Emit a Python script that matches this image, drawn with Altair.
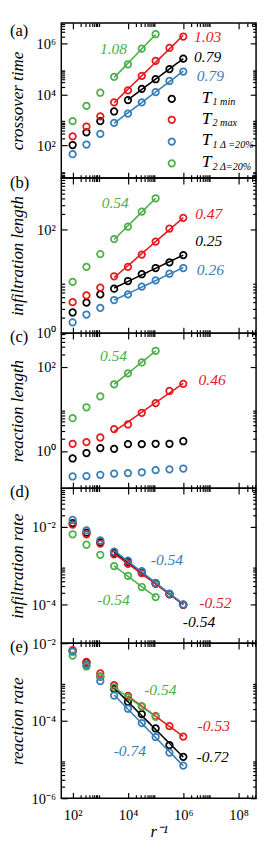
import altair as alt
import pandas as pd

# ---------------- data ----------------
r_inv = [1e2, 3.16e2, 1e3, 3.16e3, 1e4, 3.16e4, 1e5, 3.16e5, 1e6]
series = ["T1 min", "T2 max", "T1 D20", "T2 D20"]
colors = ["#000000", "#e41a1c", "#377eb8", "#4daf4a"]
draw_order = ["T1 min", "T2 max", "T2 D20", "T1 D20"]

# (a) crossover time
a_t1min = [105, 331, 912, 2190, 6170, 17000, 40700, 102000, 263000]
a_t2max = [229, 562, 1410, 5010, 14800, 55000, 214000, 692000, 1.95e6]
a_t1d = [45.7, 110, 288, 776, 1820, 5010, 12600, 34700, 81300]
a_t2d = [912, 3630, 12000, 50100, 158000, 646000, 2.4e6]
a_fit_from = [1e4, 3.16e3, 3.16e3, 3.16e3]
a_exp = ["0.79", "1.03", "0.79", "1.08"]
a_exp_x = [7.6e6, 7.6e6, 9.5e6, 3.0e3]
a_exp_y = [2.95e5, 1.78e6, 5.5e4, 6.46e5]

# (b) infiltration length
b_t1min = [2.51, 3.89, 5.62, 7.24, 10.2, 13.8, 18.2, 23.4, 32.4]
b_t2max = [3.98, 5.37, 7.59, 12.6, 19.1, 33.1, 58.9, 105, 170]
b_t1d = [1.62, 2.29, 3.09, 4.37, 5.62, 7.94, 10.5, 14.1, 18.2]
b_t2d = [9.8, 19.1, 33.9, 66.1, 115, 224, 407]
b_fit_from = [3.16e3, 3.16e3, 3.16e3, 3.16e3]
b_exp = ["0.25", "0.47", "0.26", "0.54"]
b_exp_x = [8.3e6, 8.3e6, 9.5e6, 3.47e3]
b_exp_y = [58.9, 204, 16.6, 324]

# (c) reaction length
c_t1min = [0.66, 0.89, 1.17, 1.12, 1.45, 1.45, 1.48, 1.48, 1.70]
c_t2max = [1.48, 1.62, 2.09, 3.31, 4.27, 8.13, 13.8, 26.9, 39.8]
c_t1d = [0.245, 0.251, 0.269, 0.288, 0.295, 0.309, 0.347, 0.363, 0.380]
c_t2d = [6.03, 11.0, 20.0, 38.9, 70.8, 129, 245]
c_fit_from = [None, 3.16e3, None, 3.16e3]
c_exp = [None, "0.46", None, "0.54"]
c_exp_x = [None, 1.1e7, None, 3.0e3]
c_exp_y = [None, 49, None, 186]

# (d) infiltration rate
d_t1min = [1.26e-2, 7.08e-3, 3.98e-3, 2.14e-3, 1.26e-3, 6.61e-4, 3.47e-4, 1.82e-4, 9.77e-5]
d_t2max = [1.15e-2, 6.46e-3, 3.72e-3, 1.95e-3, 1.12e-3, 6.46e-4, 3.47e-4, 1.86e-4, 9.77e-5]
d_t1d = [1.51e-2, 8.13e-3, 4.47e-3, 2.29e-3, 1.35e-3, 7.24e-4, 3.63e-4, 1.91e-4, 1.0e-4]
d_t2d = [6.46e-3, 3.47e-3, 1.91e-3, 9.77e-4, 5.50e-4, 2.82e-4, 1.55e-4]
d_fit_from = [3.16e3, 3.16e3, 3.16e3, 3.16e3]
d_exp = ["-0.54", "-0.52", "-0.54", "-0.54"]
d_exp_x = [3.7e6, 1.45e7, 2.57e5, 3.0e3]
d_exp_y = [3.55e-5, 1.1e-4, 1.35e-3, 1.29e-4]

# (e) reaction rate
e_t1min = [6.31e-3, 3.16e-3, 1.38e-3, 6.61e-4, 3.09e-4, 1.48e-4, 6.31e-5, 2.34e-5, 1.17e-5]
e_t2max = [6.61e-3, 3.31e-3, 1.66e-3, 8.32e-4, 4.37e-4, 2.34e-4, 1.32e-4, 7.24e-5, 3.89e-5]
e_t1d = [6.03e-3, 2.75e-3, 1.05e-3, 4.47e-4, 2.04e-4, 8.71e-5, 3.80e-5, 1.51e-5, 6.92e-6]
e_t2d = [4.79e-3, 2.51e-3, 1.38e-3, 7.24e-4, 3.98e-4, 2.34e-4, 1.26e-4]
e_fit_from = [3.16e3, 1e4, 3.16e3, 3.16e3]
e_exp = ["-0.72", "-0.53", "-0.74", "-0.54"]
e_exp_x = [1.15e7, 1.26e7, 1.17e4, 1.48e5]
e_exp_y = [1.17e-5, 7.2e-5, 1.62e-5, 6.3e-4]

legend_main = ["T", "T", "T", "T"]
legend_sub = ["1 min", "2 max", "1 Δ =20%", "2 Δ=20%"]

# ---------------- layout ----------------
W, H = 201, 160
XDOM = [38.9, 4.27e8]
FONT = "Liberation Serif, Times New Roman, serif"

SUP = ("'10' + (round(log(datum.value)/LN10) < 0 ? '⁻' : '') + "
       "substring('⁰¹²³⁴⁵⁶⁷⁸⁹', abs(round(log(datum.value)/LN10)), "
       "abs(round(log(datum.value)/LN10)) + 1)")


def major_ticks(lo, hi):
    return [10.0 ** k for k in range(-8, 10, 2) if lo * 0.999 <= 10.0 ** k <= hi * 1.001]


def minor_ticks(lo, hi):
    out = []
    for k in range(-8, 10, 2):
        for m in range(2, 10):
            v = m * 10.0 ** k
            if lo < v < hi:
                out.append(v)
    return out


cscale = alt.Scale(domain=series, range=colors)


def panel(letter, letter_y, title, ydom, ydata, fit_from, exps, ex, ey, bottom=False, legend=False):
    rows = []
    for name in draw_order:
        i = series.index(name)
        vals = ydata[i]
        for xv, yv in zip(r_inv, vals):
            fit = fit_from[i] is not None and xv >= fit_from[i] * 0.99
            rows.append({"x": xv, "y": yv, "series": name, "fit": fit})
    df = pd.DataFrame(rows)
    xs = alt.Scale(type="log", domain=XDOM, nice=False)
    ys = alt.Scale(type="log", domain=ydom, nice=False)
    base = alt.Chart(df)

    if bottom:
        xaxis = alt.Axis(values=major_ticks(*XDOM), labelExpr=SUP, ticks=False, tickSize=0,
                         domain=False, grid=False, labelFont=FONT, labelFontSize=15,
                         labelPadding=10, labelColor="black", labelOverlap=False, labelFlush=False,
                         title="r⁻¹", titleFont=FONT, titleFontStyle="italic",
                         titleFontWeight="normal", titleFontSize=17, titlePadding=2,
                         titleColor="black")
    else:
        xaxis = None
    yaxis = alt.Axis(values=major_ticks(*ydom), labelExpr=SUP, ticks=False, tickSize=0,
                     domain=False, grid=False, labelFont=FONT, labelFontSize=15,
                     labelPadding=6, labelColor="black", labelOverlap=False, labelFlush=False,
                     title=title, titleFont=FONT, titleFontStyle="italic",
                     titleFontWeight="normal", titleFontSize=17.5, titleColor="black",
                     titleX=-45, titleY=H / 2, titleAngle=270, titleAlign="center",
                     titleBaseline="middle")

    pts = base.mark_point(shape="circle", filled=False, size=45, strokeWidth=1.8,
                          opacity=1).encode(
        x=alt.X("x:Q", scale=xs, axis=xaxis),
        y=alt.Y("y:Q", scale=ys, axis=yaxis),
        color=alt.Color("series:N", scale=cscale, legend=None))

    fit = base.transform_filter("datum.fit").transform_regression(
        "x", "y", method="pow", groupby=["series"]).mark_line(strokeWidth=1.6).encode(
        x=alt.X("x:Q", scale=xs, axis=None),
        y=alt.Y("y:Q", scale=ys, axis=None),
        color=alt.Color("series:N", scale=cscale, legend=None))

    def tick_layer(xv, yv, size, xorient, yorient):
        common = dict(tickSize=size, ticks=True, tickColor="black", tickWidth=1.2,
                      labels=False, domain=False, grid=False, title=None,
                      minExtent=0, maxExtent=0)
        return base.mark_point(opacity=0).encode(
            x=alt.X("x:Q", scale=xs, axis=alt.Axis(orient=xorient, offset=-H, values=xv, **common)),
            y=alt.Y("y:Q", scale=ys, axis=alt.Axis(orient=yorient, offset=-W, values=yv, **common)))

    ticks = [
        tick_layer(major_ticks(*XDOM), major_ticks(*ydom), 6, "top", "right"),
        tick_layer(minor_ticks(*XDOM), minor_ticks(*ydom), 3.5, "top", "right"),
        tick_layer(major_ticks(*XDOM), major_ticks(*ydom), 6, "bottom", "left"),
        tick_layer(minor_ticks(*XDOM), minor_ticks(*ydom), 3.5, "bottom", "left"),
    ]

    ann_rows = [{"x": ex[i], "y": ey[i], "t": exps[i], "series": series[i]}
                for i in range(4) if exps[i] is not None]
    ann = alt.Chart(pd.DataFrame(ann_rows)).mark_text(
        font=FONT, fontSize=16, fontStyle="italic", align="center", baseline="middle").encode(
        x=alt.X("x:Q", scale=xs, axis=None),
        y=alt.Y("y:Q", scale=ys, axis=None),
        text="t:N",
        color=alt.Color("series:N", scale=cscale, legend=None))

    lab = alt.Chart(pd.DataFrame({"t": [letter]})).mark_text(
        font=FONT, fontSize=17, align="left", baseline="middle", color="black").encode(
        text="t:N", x=alt.value(-53), y=alt.value(letter_y))

    layers = [pts, fit] + ticks + [ann, lab]

    if legend:
        ly = [78.3, 99.8, 122.3, 144.8]
        for i in range(4):
            one = pd.DataFrame({"m": [legend_main[i]], "s": [legend_sub[i]]})
            layers.append(alt.Chart(one).mark_point(
                shape="circle", filled=False, size=45, strokeWidth=1.8, opacity=1,
                color=colors[i]).encode(x=alt.value(114), y=alt.value(ly[i])))
            layers.append(alt.Chart(one).mark_text(
                font=FONT, fontSize=18, fontStyle="italic", align="left",
                baseline="alphabetic", color="black").encode(
                text="m:N", x=alt.value(145), y=alt.value(ly[i] + 4)))
            layers.append(alt.Chart(one).mark_text(
                font=FONT, fontSize=10.5, fontStyle="italic", align="left",
                baseline="alphabetic", color="black").encode(
                text="s:N", x=alt.value(156), y=alt.value(ly[i] + 6.5)))

    return alt.layer(*layers).resolve_axis(x="independent", y="independent").properties(
        width=W, height=H)


pa = panel("(a)", 8, "crossover time", [5.25, 6.6e6],
           [a_t1min, a_t2max, a_t1d, a_t2d], a_fit_from, a_exp, a_exp_x, a_exp_y, legend=True)
pb = panel("(b)", 5, "infiltration length", [1, 1000],
           [b_t1min, b_t2max, b_t1d, b_t2d], b_fit_from, b_exp, b_exp_x, b_exp_y)
pc = panel("(c)", 4, "reaction length", [0.129, 646],
           [c_t1min, c_t2max, c_t1d, c_t2d], c_fit_from, c_exp, c_exp_x, c_exp_y)
pd_ = panel("(d)", 4, "infiltration rate", [1e-5, 0.1],
            [d_t1min, d_t2max, d_t1d, d_t2d], d_fit_from, d_exp, d_exp_x, d_exp_y)
pe = panel("(e)", 4, "reaction rate", [1e-6, 1e-2],
           [e_t1min, e_t2max, e_t1d, e_t2d], e_fit_from, e_exp, e_exp_x, e_exp_y, bottom=True)

chart = alt.vconcat(pa, pb, pc, pd_, pe, spacing=0, bounds="flush", padding=0).configure_view(
    stroke="black", strokeWidth=1.5)

chart.save("out.html", embed_options={"renderer": "svg", "actions": False})
